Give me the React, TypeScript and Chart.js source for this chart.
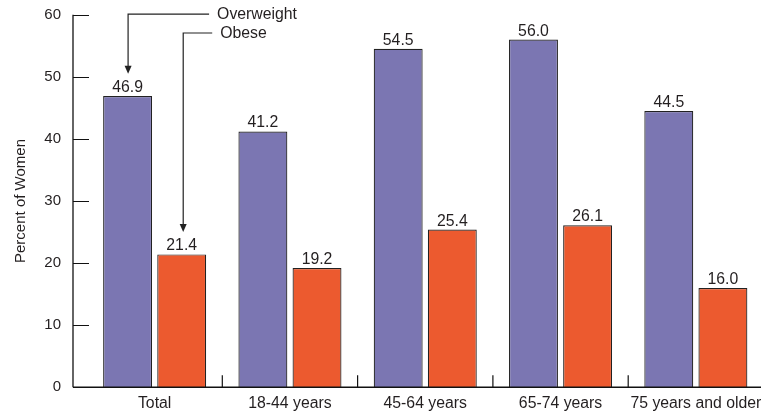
import React, { useEffect, useRef } from 'react';
import { Chart, registerables } from 'chart.js';

Chart.register(...registerables);

const categories = ['Total', '18-44 years', '45-64 years', '65-74 years', '75 years and older'];
const overweight = [46.9, 41.2, 54.5, 56.0, 44.5];
const obese = [21.4, 19.2, 25.4, 26.1, 16.0];
const seriesNames = ['Overweight', 'Obese'];
const yTitle = 'Percent of Women';
const yMin = 0;
const yMax = 60;
const yStep = 10;

const FONT = "'Liberation Sans', Arial, Helvetica, sans-serif";
const TEXT = '#231f20';
const PURPLE = '#7b76b2';
const ORANGE = '#ec5a2f';
const CLEAR = 'rgba(0,0,0,0)';
const LABEL_SIZE = 15.8;

const decorPlugin = {
  id: 'decor',
  afterDatasetsDraw(chart: any) {
    const { ctx, chartArea } = chart;
    const x = chart.scales.x;
    const y = chart.scales.y;
    const axisX = chartArea.left - 14;
    ctx.save();
    ctx.strokeStyle = '#111';
    ctx.lineWidth = 1.3;
    ctx.beginPath();
    ctx.moveTo(axisX, y.getPixelForValue(yMax));
    ctx.lineTo(axisX, chartArea.bottom);
    ctx.stroke();
    ctx.lineWidth = 1;
    for (let v = yMin + yStep; v <= yMax; v += yStep) {
      const py = Math.round(y.getPixelForValue(v)) + 0.5;
      ctx.beginPath();
      ctx.moveTo(axisX, py);
      ctx.lineTo(chartArea.left + 2, py);
      ctx.stroke();
    }
    ctx.lineWidth = 1.5;
    ctx.beginPath();
    ctx.moveTo(axisX, chartArea.bottom);
    ctx.lineTo(chart.width, chartArea.bottom);
    ctx.stroke();
    ctx.lineWidth = 1.2;
    for (let i = 1; i < categories.length; i++) {
      const px = (x.getPixelForValue(i - 1) + x.getPixelForValue(i)) / 2;
      ctx.beginPath();
      ctx.moveTo(px, chartArea.bottom - 12);
      ctx.lineTo(px, chartArea.bottom);
      ctx.stroke();
    }
    ctx.fillStyle = TEXT;
    ctx.font = `${LABEL_SIZE}px ${FONT}`;
    ctx.textAlign = 'center';
    ctx.textBaseline = 'alphabetic';
    chart.data.datasets.forEach((ds: any, di: number) => {
      const meta = chart.getDatasetMeta(di);
      meta.data.forEach((el: any, i: number) => {
        ctx.fillText(Number(ds.data[i]).toFixed(1), el.x, el.y - 4);
      });
    });
    const drawCallout = (di: number, lineValue: number, lineLen: number, label: string) => {
      const el = chart.getDatasetMeta(di).data[0];
      const ax = el.x + (di === 1 ? 1.5 : 0.5);
      const ly = y.getPixelForValue(lineValue);
      const tipY = el.y - 4 - 11.3 - 7;
      ctx.strokeStyle = '#222';
      ctx.lineWidth = 1.2;
      ctx.beginPath();
      ctx.moveTo(ax + lineLen, ly);
      ctx.lineTo(ax, ly);
      ctx.lineTo(ax, tipY - 7);
      ctx.stroke();
      ctx.fillStyle = '#222';
      ctx.beginPath();
      ctx.moveTo(ax - 3.5, tipY - 8);
      ctx.lineTo(ax + 3.5, tipY - 8);
      ctx.lineTo(ax, tipY);
      ctx.closePath();
      ctx.fill();
      ctx.fillStyle = TEXT;
      ctx.font = `${LABEL_SIZE}px ${FONT}`;
      ctx.textAlign = 'left';
      ctx.textBaseline = 'middle';
      ctx.fillText(label, ax + lineLen + 8, ly + 0.5);
    };
    drawCallout(0, 60.1, 81, seriesNames[0]);
    drawCallout(1, 57.05, 29, seriesNames[1]);
    ctx.restore();
  },
};

export default function App() {
  const ref = useRef<HTMLCanvasElement>(null);
  useEffect(() => {
    if (!ref.current) return;
    const chart = new Chart(ref.current, {
      type: 'bar',
      data: {
        labels: categories,
        datasets: [
          {
            label: seriesNames[0],
            data: overweight,
            backgroundColor: PURPLE,
            borderColor: '#222',
            borderWidth: 1.2,
            borderSkipped: 'bottom',
            categoryPercentage: 0.8,
            barPercentage: 0.904,
          },
          {
            label: seriesNames[1],
            data: obese,
            backgroundColor: ORANGE,
            borderColor: '#222',
            borderWidth: 1.2,
            borderSkipped: 'bottom',
            categoryPercentage: 0.8,
            barPercentage: 0.904,
          },
        ],
      },
      options: {
        responsive: false,
        animation: false,
        layout: { autoPadding: false, padding: { top: 14.7, right: 6.5, left: 0, bottom: 0 } },
        plugins: { legend: { display: false }, tooltip: { enabled: false } },
        scales: {
          x: {
            offset: true,
            grid: { display: false, drawOnChartArea: false, drawTicks: true, tickLength: 7, tickColor: CLEAR },
            border: { display: false },
            ticks: {
              color: TEXT,
              font: { family: FONT, size: LABEL_SIZE },
              padding: 0,
              autoSkip: false,
              maxRotation: 0,
              minRotation: 0,
            },
            afterFit: (s: any) => {
              s.height = 412 - 387.3;
            },
          },
          y: {
            min: yMin,
            max: yMax,
            grid: { display: false, drawOnChartArea: false, drawTicks: true, tickLength: 24, tickColor: CLEAR },
            border: { display: false },
            ticks: {
              stepSize: yStep,
              color: TEXT,
              font: { family: FONT, size: 15 },
              padding: 2,
            },
            title: {
              display: true,
              text: yTitle,
              color: TEXT,
              font: { family: FONT, size: 15 },
              padding: { top: 12, bottom: 0 },
            },
            afterFit: (s: any) => {
              s.width = 87;
            },
          },
        },
      },
      plugins: [decorPlugin],
    });
    return () => chart.destroy();
  }, []);
  return (
    <div style={{ position: 'fixed', left: 0, top: 0, width: 770, height: 412, background: '#fff' }}>
      <canvas ref={ref} width={770} height={412} />
    </div>
  );
}
